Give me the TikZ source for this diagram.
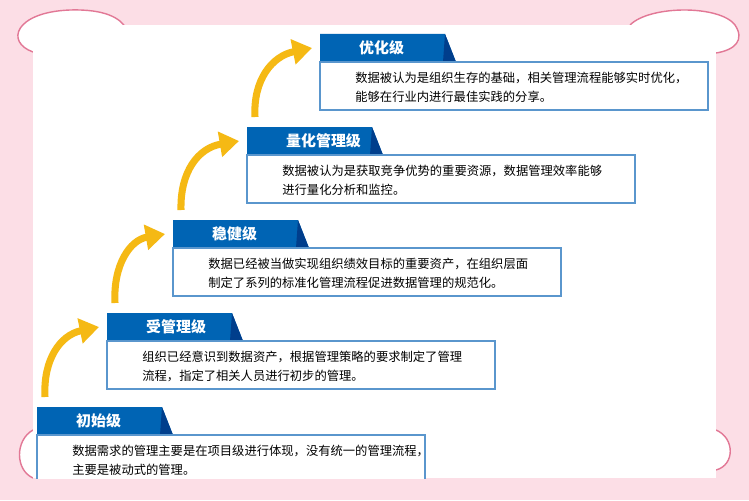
\documentclass[tikz,border=0pt]{standalone}
\usepackage{fontspec}
\setmainfont{Noto Sans CJK SC}
\usetikzlibrary{arrows.meta}
\definecolor{bgPink}{RGB}{252,222,230}
\definecolor{linePink}{RGB}{226,120,150}
\definecolor{tabBlue}{RGB}{0,100,180}
\definecolor{tabDark}{RGB}{0,62,140}
\definecolor{boxBlue}{RGB}{90,150,205}
\definecolor{arrowGold}{RGB}{245,185,20}
\newcommand\tabW{120}
\newcommand\tabH{28}
\newcommand\boxW{388}
\newcommand\boxH{48}
\tikzset{
  lvtab/.style={fill=tabBlue},
  lvdark/.style={fill=tabDark},
  lvbox/.style={draw=boxBlue, fill=white, line width=0.8pt},
  lvtitle/.style={text=white, font=\fontsize{8.5}{10}\selectfont\bfseries, anchor=west},
  lvtext/.style={font=\fontsize{7}{11}\selectfont, anchor=base west, inner sep=0pt},
  uparrow/.style={arrowGold, line width=4pt, -{Triangle[length=11pt,width=14pt]}},
}
\begin{document}
\begin{tikzpicture}[x=0.02cm,y=-0.02cm]
    \useasboundingbox (0,0) rectangle (749,500);
    \fill[bgPink] (0,0) rectangle (749,500);

    % clouds
    \filldraw[fill=white, draw=linePink, line width=0.8pt] (33,52) .. controls (5,42) and (15,12) .. (70,10) .. controls (105,9) and (120,18) .. (126,28);
    \filldraw[fill=white, draw=linePink, line width=0.8pt] (630,25) .. controls (650,5) and (720,5) .. (735,25) .. controls (745,40) and (735,50) .. (716,53);
    \filldraw[fill=white, draw=linePink, line width=0.8pt] (33,430) .. controls (15,440) and (15,470) .. (33,478);
    \filldraw[fill=white, draw=linePink, line width=0.8pt] (716,430) .. controls (735,438) and (735,465) .. (716,470);
    \fill[white] (33,25) rectangle (716,478);

    % levels
    \newcommand\level[6]{%
      \fill[lvtab] (#1,#2) -- (#1+\tabW+5,#2) -- (#1+\tabW+16,#2+\tabH) -- (#1,#2+\tabH) -- cycle;
      \fill[lvdark] (#1+\tabW+5,#2) -- (#1+\tabW+16,#2+\tabH) -- (#1+\tabW+3,#2+\tabH) -- cycle;
      \node[lvtitle] (#3-t) at (#1+33,#2+\tabH/2) {#4};
      \draw[lvbox] (#1,#2+\tabH) rectangle (#1+\boxW,#2+\tabH+\boxH);
      \node[lvtext] (#3-b) at (#1+35,#2+\tabH+20) {#5};
      \node[lvtext] (#3-c) at (#1+35,#2+\tabH+39) {#6};
      \coordinate (#3-in) at (#1-8,#2+\tabH/2);
      \coordinate (#3-out) at (#1+8,#2-10);
    }
    \level{320}{34}{L5}{优化级}{数据被认为是组织生存的基础，相关管理流程能够实时优化，}{能够在行业内进行最佳实践的分享。}
    \level{247}{127}{L4}{量化管理级}{数据被认为是获取竞争优势的重要资源，数据管理效率能够}{进行量化分析和监控。}
    \level{173}{220}{L3}{稳健级}{数据已经被当做实现组织绩效目标的重要资产，在组织层面}{制定了系列的标准化管理流程促进数据管理的规范化。}
    \level{107}{313}{L2}{受管理级}{组织已经意识到数据资产，根据管理策略的要求制定了管理}{流程，指定了相关人员进行初步的管理。}
    \level{37}{407}{L1}{初始级}{数据需求的管理主要是在项目级进行体现，没有统一的管理流程，}{主要是被动式的管理。}
    \fill[bgPink] (30,478.5) rectangle (440,500);

    % arrows
    \draw[uparrow] (L1-out) .. controls (43,360) and (60,335) .. (L2-in);
    \draw[uparrow] (L2-out) .. controls (113,265) and (130,240) .. (L3-in);
    \draw[uparrow] (L3-out) .. controls (180,172) and (198,148) .. (L4-in);
    \draw[uparrow] (L4-out) .. controls (253,80) and (272,56) .. (L5-in);

\end{tikzpicture}
\end{document}
